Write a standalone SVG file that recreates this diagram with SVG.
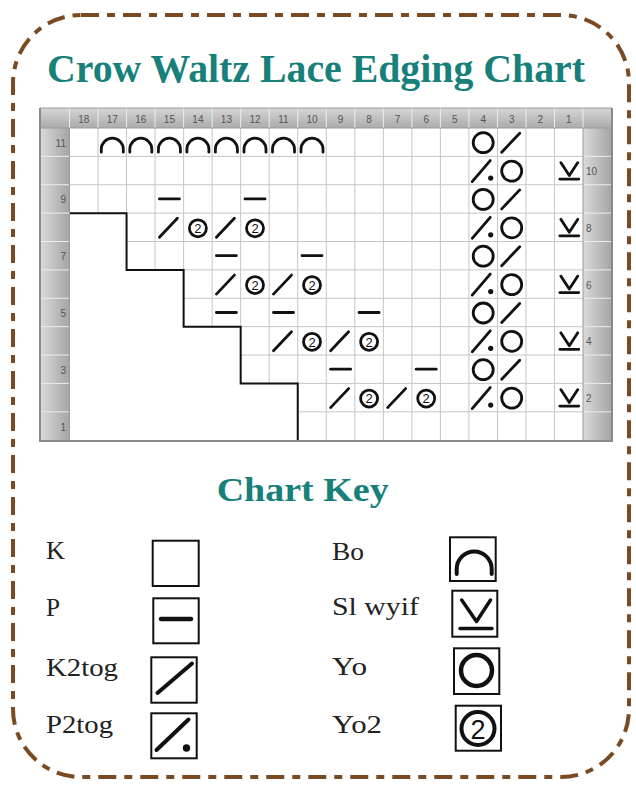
<svg xmlns="http://www.w3.org/2000/svg" xmlns:xlink="http://www.w3.org/1999/xlink" width="636" height="785" viewBox="0 0 636 785">
<style>
.grid{stroke:#c6c6c6;stroke-width:1;fill:none}
.sym{fill:none;stroke:#111;stroke-width:2.8;stroke-linecap:round;stroke-linejoin:round}
.hd{font-family:"Liberation Sans",Arial,sans-serif;font-size:10px;fill:#555}
.hdm{font-family:"Liberation Sans",Arial,sans-serif;font-size:10px;fill:#555;text-anchor:middle}
.lbl{font-family:"Liberation Serif","Times New Roman",serif;font-size:26px;fill:#222}
.ttl{font-family:"Liberation Serif","Times New Roman",serif;font-weight:bold;fill:#17807a}
.kbox{fill:#fff;stroke:#111;stroke-width:2}
.ks{fill:none;stroke:#111;stroke-linecap:round;stroke-linejoin:round}
</style>
<defs>
<linearGradient id="gH" x1="0" y1="0" x2="0" y2="1"><stop offset="0" stop-color="#d6d6d6"/><stop offset="1" stop-color="#ababab"/></linearGradient>
<linearGradient id="gV" x1="0" y1="0" x2="1" y2="0"><stop offset="0" stop-color="#dadada"/><stop offset="1" stop-color="#a4a4a4"/></linearGradient>
<g id="bo"><path class="sym" d="M-11,10 L-11,7 A11,11 0 0 1 11,7 L11,10"/></g>
<g id="yo"><circle class="sym" r="10" cy="0.5"/></g>
<g id="k2"><path class="sym" d="M-10,10 L8,-9"/></g>
<g id="p2"><path class="sym" d="M-11,11 L7,-10"/><circle r="2.6" cx="7.5" cy="7.5" fill="#111"/></g>
<g id="yo2"><circle class="sym" r="8.5" cy="1" stroke-width="2.2"/><text y="5.8" text-anchor="middle" font-family="Liberation Sans,Arial,sans-serif" font-size="13" fill="#111">2</text></g>
<g id="pl"><path class="sym" d="M-10,0 H10"/></g>
<g id="sl"><path class="sym" stroke-width="2.4" d="M-8,-8 L0.5,5 L9,-8 M-9,8.5 H10"/></g>
</defs>
<rect width="636" height="785" fill="#fff"/>
<rect id="border" x="13" y="15" width="616" height="762" rx="68" ry="68" fill="none" stroke="#7a4a22" stroke-width="4" stroke-dasharray="18 8 8 8"/>
<text id="title" class="ttl" x="47" y="82" font-size="40" textLength="538" lengthAdjust="spacingAndGlyphs">Crow Waltz Lace Edging Chart</text>
<g id="chart">
<rect x="40" y="108" width="572" height="20" fill="url(#gH)"/>
<rect x="40" y="128" width="29.5" height="312" fill="url(#gV)"/>
<rect x="583" y="128" width="29" height="312" fill="url(#gV)"/>
<rect x="69.5" y="128" width="513.5" height="312.2" fill="#fff"/>
<g stroke="#ececec" stroke-width="1">
<path d="M69.5,108V128M98.03,108V128M126.56,108V128M155.09,108V128M183.62,108V128M212.15,108V128M240.68,108V128M269.21,108V128M297.74,108V128M326.27,108V128M354.8,108V128M383.33,108V128M411.86,108V128M440.39,108V128M468.92,108V128M497.45,108V128M525.98,108V128M554.51,108V128M583,108V128"/>
<path d="M40,156.38H69.5M40,184.76H69.5M40,213.14H69.5M40,241.52H69.5M40,269.9H69.5M40,298.28H69.5M40,326.66H69.5M40,355.04H69.5M40,383.42H69.5M40,411.8H69.5"/>
<path d="M583,156.38H612M583,184.76H612M583,213.14H612M583,241.52H612M583,269.9H612M583,298.28H612M583,326.66H612M583,355.04H612M583,383.42H612M583,411.8H612"/>
</g>
<path class="grid" d="M98.03,128V440M126.56,128V440M155.09,128V440M183.62,128V440M212.15,128V440M240.68,128V440M269.21,128V440M297.74,128V440M326.27,128V440M354.8,128V440M383.33,128V440M411.86,128V440M440.39,128V440M468.92,128V440M497.45,128V440M525.98,128V440M554.51,128V440"/>
<path class="grid" d="M69.5,156.38H583M69.5,184.76H583M69.5,213.14H583M69.5,241.52H583M69.5,269.9H583M69.5,298.28H583M69.5,326.66H583M69.5,355.04H583M69.5,383.42H583M69.5,411.8H583"/>
<polygon fill="#fff" points="69.5,213.14 126.56,213.14 126.56,269.9 183.62,269.9 183.62,326.66 240.68,326.66 240.68,383.42 297.74,383.42 297.74,440.18 69.5,440.18"/>
<path fill="none" stroke="#111" stroke-width="2" d="M69.5,213.14H126.56V269.9H183.62V326.66H240.68V383.42H297.74V440.18"/>
<path fill="none" stroke="#8a8a8a" stroke-width="2" d="M40,108V441H612V108"/>
<path fill="none" stroke="#9a9a9a" stroke-width="1" d="M40,108H612M69.5,128V440M583,128V440M40,128H612"/>
<g class="hdm">
<text x="83.8" y="123">18</text><text x="112.3" y="123">17</text><text x="140.8" y="123">16</text><text x="169.4" y="123">15</text><text x="197.9" y="123">14</text><text x="226.4" y="123">13</text><text x="255" y="123">12</text><text x="283.5" y="123">11</text><text x="312" y="123">10</text><text x="340.6" y="123">9</text><text x="369.1" y="123">8</text><text x="397.6" y="123">7</text><text x="426.2" y="123">6</text><text x="454.7" y="123">5</text><text x="483.2" y="123">4</text><text x="511.7" y="123">3</text><text x="540.3" y="123">2</text><text x="568.8" y="123">1</text>
</g>
<g class="hd" text-anchor="end">
<text x="66" y="147">11</text><text x="66" y="203">9</text><text x="66" y="260">7</text><text x="66" y="317">5</text><text x="66" y="374">3</text><text x="66" y="431">1</text>
</g>
<g class="hd">
<text x="586" y="175">10</text><text x="586" y="232">8</text><text x="586" y="289">6</text><text x="586" y="345">4</text><text x="586" y="402">2</text>
</g>
<g id="stitches">
<use href="#bo" x="112.3" y="142.2"/><use href="#bo" x="140.8" y="142.2"/><use href="#bo" x="169.4" y="142.2"/><use href="#bo" x="197.9" y="142.2"/><use href="#bo" x="226.4" y="142.2"/><use href="#bo" x="255" y="142.2"/><use href="#bo" x="283.5" y="142.2"/><use href="#bo" x="312" y="142.2"/>
<use href="#yo" x="483.2" y="142.2"/><use href="#k2" x="511.7" y="142.2"/>
<use href="#p2" x="483.2" y="170.6"/><use href="#yo" x="511.7" y="170.6"/><use href="#sl" x="568.8" y="170.6"/>
<use href="#pl" x="169.4" y="198.9"/><use href="#pl" x="255" y="198.9"/><use href="#yo" x="483.2" y="198.9"/><use href="#k2" x="511.7" y="198.9"/>
<use href="#k2" x="169.4" y="227.3"/><use href="#yo2" x="197.9" y="227.3"/><use href="#k2" x="226.4" y="227.3"/><use href="#yo2" x="255" y="227.3"/><use href="#p2" x="483.2" y="227.3"/><use href="#yo" x="511.7" y="227.3"/><use href="#sl" x="568.8" y="227.3"/>
<use href="#pl" x="226.4" y="255.7"/><use href="#pl" x="312" y="255.7"/><use href="#yo" x="483.2" y="255.7"/><use href="#k2" x="511.7" y="255.7"/>
<use href="#k2" x="226.4" y="284.1"/><use href="#yo2" x="255" y="284.1"/><use href="#k2" x="283.5" y="284.1"/><use href="#yo2" x="312" y="284.1"/><use href="#p2" x="483.2" y="284.1"/><use href="#yo" x="511.7" y="284.1"/><use href="#sl" x="568.8" y="284.1"/>
<use href="#pl" x="226.4" y="312.5"/><use href="#pl" x="283.5" y="312.5"/><use href="#pl" x="369.1" y="312.5"/><use href="#yo" x="483.2" y="312.5"/><use href="#k2" x="511.7" y="312.5"/>
<use href="#k2" x="283.5" y="340.8"/><use href="#yo2" x="312" y="340.8"/><use href="#k2" x="340.6" y="340.8"/><use href="#yo2" x="369.1" y="340.8"/><use href="#p2" x="483.2" y="340.8"/><use href="#yo" x="511.7" y="340.8"/><use href="#sl" x="568.8" y="340.8"/>
<use href="#pl" x="340.6" y="369.2"/><use href="#pl" x="426.2" y="369.2"/><use href="#yo" x="483.2" y="369.2"/><use href="#k2" x="511.7" y="369.2"/>
<use href="#k2" x="340.6" y="397.6"/><use href="#yo2" x="369.1" y="397.6"/><use href="#k2" x="397.6" y="397.6"/><use href="#yo2" x="426.2" y="397.6"/><use href="#p2" x="483.2" y="397.6"/><use href="#yo" x="511.7" y="397.6"/><use href="#sl" x="568.8" y="397.6"/>
</g>
</g>
<text id="keytitle" class="ttl" x="216.7" y="500.5" font-size="33" textLength="172" lengthAdjust="spacingAndGlyphs">Chart Key</text>
<g id="key-k"><text class="lbl" x="46" y="559" textLength="19" lengthAdjust="spacingAndGlyphs">K</text><rect class="kbox" x="152.7" y="540.7" width="46" height="45.3"/></g>
<g id="key-p"><text class="lbl" x="46" y="616" textLength="14" lengthAdjust="spacingAndGlyphs">P</text><rect class="kbox" x="153.3" y="598.3" width="45.4" height="45"/><path class="ks" stroke-width="4.5" d="M161,619H191"/></g>
<g id="key-k2tog"><text class="lbl" x="46" y="676" textLength="72" lengthAdjust="spacingAndGlyphs">K2tog</text><rect class="kbox" x="151.3" y="657.3" width="45.4" height="45.4"/><path class="ks" stroke-width="4" d="M157.5,693L192,663.5"/></g>
<g id="key-p2tog"><text class="lbl" x="46" y="733" textLength="67" lengthAdjust="spacingAndGlyphs">P2tog</text><rect class="kbox" x="151.3" y="713.3" width="45.4" height="45"/><path class="ks" stroke-width="4" d="M156.5,750L188.5,719.5"/><circle cx="186.5" cy="748" r="3.7" fill="#111"/></g>
<g id="key-bo"><text class="lbl" x="332" y="560" textLength="32" lengthAdjust="spacingAndGlyphs">Bo</text><rect class="kbox" x="450" y="537.3" width="45.7" height="43.7"/><path class="ks" stroke-width="4" d="M456.7,574L456.7,569A17.5,17.5 0 0 1 491.7,569L491.7,574"/></g>
<g id="key-sl"><text class="lbl" x="332" y="615" textLength="87" lengthAdjust="spacingAndGlyphs">Sl wyif</text><rect class="kbox" x="452.3" y="590.7" width="45" height="46"/><path class="ks" stroke-width="3.5" d="M461.7,600L476.5,621.5L490.5,600M460,628.5H492"/></g>
<g id="key-yo"><text class="lbl" x="332" y="675" textLength="35" lengthAdjust="spacingAndGlyphs">Yo</text><rect class="kbox" x="454" y="648.3" width="45.3" height="45.7"/><circle class="ks" stroke-width="4.5" cx="476.5" cy="670.5" r="15.5"/></g>
<g id="key-yo2"><text class="lbl" x="332" y="733" textLength="50" lengthAdjust="spacingAndGlyphs">Yo2</text><rect class="kbox" x="455.7" y="705.7" width="45.3" height="45"/><circle class="ks" stroke-width="4" cx="478" cy="728.5" r="16.5"/><text x="478" y="738.5" text-anchor="middle" font-family="Liberation Sans,Arial,sans-serif" font-size="27" fill="#111">2</text></g>
</svg>
